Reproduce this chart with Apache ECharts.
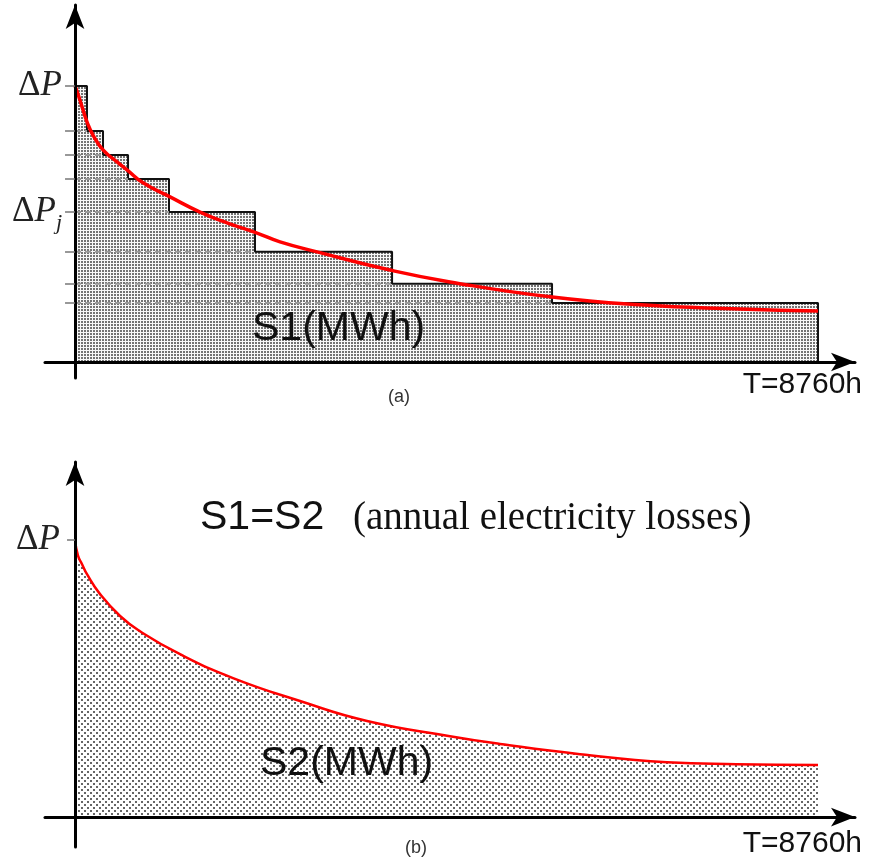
<!DOCTYPE html>
<html>
<head>
<meta charset="utf-8">
<script src="https://cdn.jsdelivr.net/npm/echarts@6/dist/echarts.min.js"></script>
<style>
  html, body { margin: 0; padding: 0; background: #fff; }
  #chart { width: 870px; height: 867px; }
</style>
</head>
<body>
<div id="chart"></div>
<script>
// panel (a): stepped load-loss duration curve, hours / % of ΔP
const periodEnd = 8760;
const stepStart = [0, 141, 330, 625, 1108, 2122, 3738, 5624];
const stepLevel = [100, 83.7, 75.0, 66.3, 54.3, 39.9, 28.3, 21.4];
const curveA_T = [0, 35, 83, 141, 212, 330, 495, 613, 802, 1120, 1474, 1792, 2146, 2417, 2853, 3714, 4421, 5600, 6661, 7840, 8760];
const curveA_P = [100, 97, 92.4, 87.0, 82.2, 76.8, 72.5, 69.6, 64.9, 59.8, 54.3, 50.4, 46.7, 43.5, 39.9, 33.3, 29.0, 23.6, 20.7, 19.2, 18.5];

// panel (b): continuous curve
const curveB_T = [0, 35, 83, 141, 295, 531, 766, 1238, 1863, 2653, 3443, 4421, 5011, 5954, 6980, 7800, 8760];
const curveB_P = [100, 94.4, 91.3, 87.7, 80.5, 72.6, 67.1, 58.8, 50.2, 41.9, 34.7, 29.2, 26.4, 22.7, 19.8, 19.1, 18.8];

// dotted fills
function dotPattern(size, dot, offsets, fg, bg) {
  const c = document.createElement("canvas");
  c.width = size;
  c.height = size;
  const ctx = c.getContext("2d");
  ctx.fillStyle = bg;
  ctx.fillRect(0, 0, size, size);
  ctx.fillStyle = fg;
  offsets.forEach(([x, y]) => ctx.fillRect(x, y, dot, dot));
  return c;
}
const denseDots = dotPattern(3, 2, [[0, 0]], "#737373", "#f8f8f8");
const sparseDots = dotPattern(6, 2, [[0, 0], [3, 3]], "#666666", "#ffffff");

const stepData = [[0, 0]];
stepStart.forEach((t, i) => stepData.push([t, stepLevel[i]]));
stepData.push([periodEnd, stepLevel[stepLevel.length - 1]], [periodEnd, 0]);

const serif = "Liberation Serif";
const sans = "Liberation Sans";

const axisLabelRich = {
  d: { fontFamily: serif, fontSize: 35, color: "#222" },
  p: { fontFamily: serif, fontSize: 35, fontStyle: "italic", color: "#222" },
  j: { fontFamily: serif, fontSize: 22, fontStyle: "italic", color: "#222", padding: [22, 0, 0, 0] },
};

const arrowLine = (w) => ({
  onZero: true,
  symbol: ["none", "arrow"],
  symbolSize: [14, 24],
  lineStyle: { color: "#000", width: w },
});

const chart = echarts.init(document.getElementById("chart"));

const option = {
  backgroundColor: "#fff",
  animation: false,
  grid: [
    { left: 45, top: 5, width: 810, height: 373, outerBoundsMode: "none" },
    { left: 45, top: 462, width: 810, height: 385, outerBoundsMode: "none" },
  ],
  xAxis: [0, 1].map((g) => ({
    gridIndex: g,
    type: "value",
    min: -354,
    max: 9196,
    z: 10,
    axisLine: arrowLine(3),
    axisTick: { show: false },
    axisLabel: { show: false },
    splitLine: { show: false },
  })),
  yAxis: [
    {
      gridIndex: 0,
      type: "value",
      min: -5.8,
      max: 129.3,
      z: 10,
      axisLine: arrowLine(3),
      axisTick: {
        show: true,
        length: 10,
        customValues: stepLevel,
        lineStyle: { color: "#777", width: 1.5 },
      },
      axisLabel: {
        show: true,
        margin: -17,
        customValues: [stepLevel[0], stepLevel[4]],
        formatter: (v) => (v === stepLevel[0] ? "{d|Δ}{p|P}" : "{d|Δ}{p|P}{j|j}"),
        rich: axisLabelRich,
      },
      splitLine: { show: false },
    },
    {
      gridIndex: 1,
      type: "value",
      min: -10.8,
      max: 128.2,
      z: 10,
      axisLine: arrowLine(3),
      axisTick: {
        show: true,
        length: 8,
        customValues: [100],
        lineStyle: { color: "#777", width: 1.5 },
      },
      axisLabel: {
        show: true,
        margin: -15,
        customValues: [100],
        formatter: () => "{d|Δ}{p|P}",
        rich: axisLabelRich,
      },
      splitLine: { show: false },
    },
  ],
  series: [
    {
      type: "line",
      xAxisIndex: 0,
      yAxisIndex: 0,
      step: "end",
      data: stepData,
      showSymbol: false,
      silent: true,
      lineStyle: { color: "#111", width: 2 },
      areaStyle: { color: { image: denseDots, repeat: "repeat" }, opacity: 1 },
      z: 2,
    },
    // dashed guide lines from the axis to the start of each step
    ...stepLevel.slice(1).map((lvl, i) => ({
      type: "line",
      xAxisIndex: 0,
      yAxisIndex: 0,
      data: [[0, lvl], [stepStart[i + 1], lvl]],
      showSymbol: false,
      silent: true,
      lineStyle: { color: "#9a9a9a", width: 2, type: [6, 4] },
      z: 3,
    })),
    {
      type: "line",
      xAxisIndex: 0,
      yAxisIndex: 0,
      data: curveA_T.map((t, i) => [t, curveA_P[i]]),
      smooth: 0.5,
      showSymbol: false,
      silent: true,
      lineStyle: { color: "#ff0000", width: 3.5 },
      z: 5,
    },
    {
      type: "line",
      xAxisIndex: 1,
      yAxisIndex: 1,
      data: curveB_T.map((t, i) => [t, curveB_P[i]]),
      smooth: 0.5,
      showSymbol: false,
      silent: true,
      lineStyle: { color: "#ff0000", width: 2.5 },
      areaStyle: { color: { image: sparseDots, repeat: "repeat" }, opacity: 1 },
      z: 5,
    },
  ],
  graphic: [
    { type: "text", left: 252, top: 308, style: { text: "S1(MWh)", font: "41px " + sans, fill: "#111" }, z: 20 },
    { type: "text", left: 388, top: 388, style: { text: "(a)", font: "18px " + sans, fill: "#333" }, z: 20 },
    { type: "text", right: 8, top: 370, style: { text: "T=8760h", font: "30px " + sans, fill: "#111" }, z: 20 },
    { type: "text", left: 200, top: 497, style: { text: "S1=S2", font: "41px " + sans, fill: "#111" }, z: 20 },
    { type: "text", left: 353, top: 499, style: { text: "(annual electricity losses)", font: "39px " + serif, fill: "#111" }, z: 20 },
    { type: "text", left: 260, top: 743, style: { text: "S2(MWh)", font: "41px " + sans, fill: "#111" }, z: 20 },
    { type: "text", left: 405, top: 839, style: { text: "(b)", font: "18px " + sans, fill: "#333" }, z: 20 },
    { type: "text", right: 8, top: 829, style: { text: "T=8760h", font: "30px " + sans, fill: "#111" }, z: 20 },
  ],
};

chart.setOption(option);
window.addEventListener("resize", () => chart.resize());
</script>
</body>
</html>
